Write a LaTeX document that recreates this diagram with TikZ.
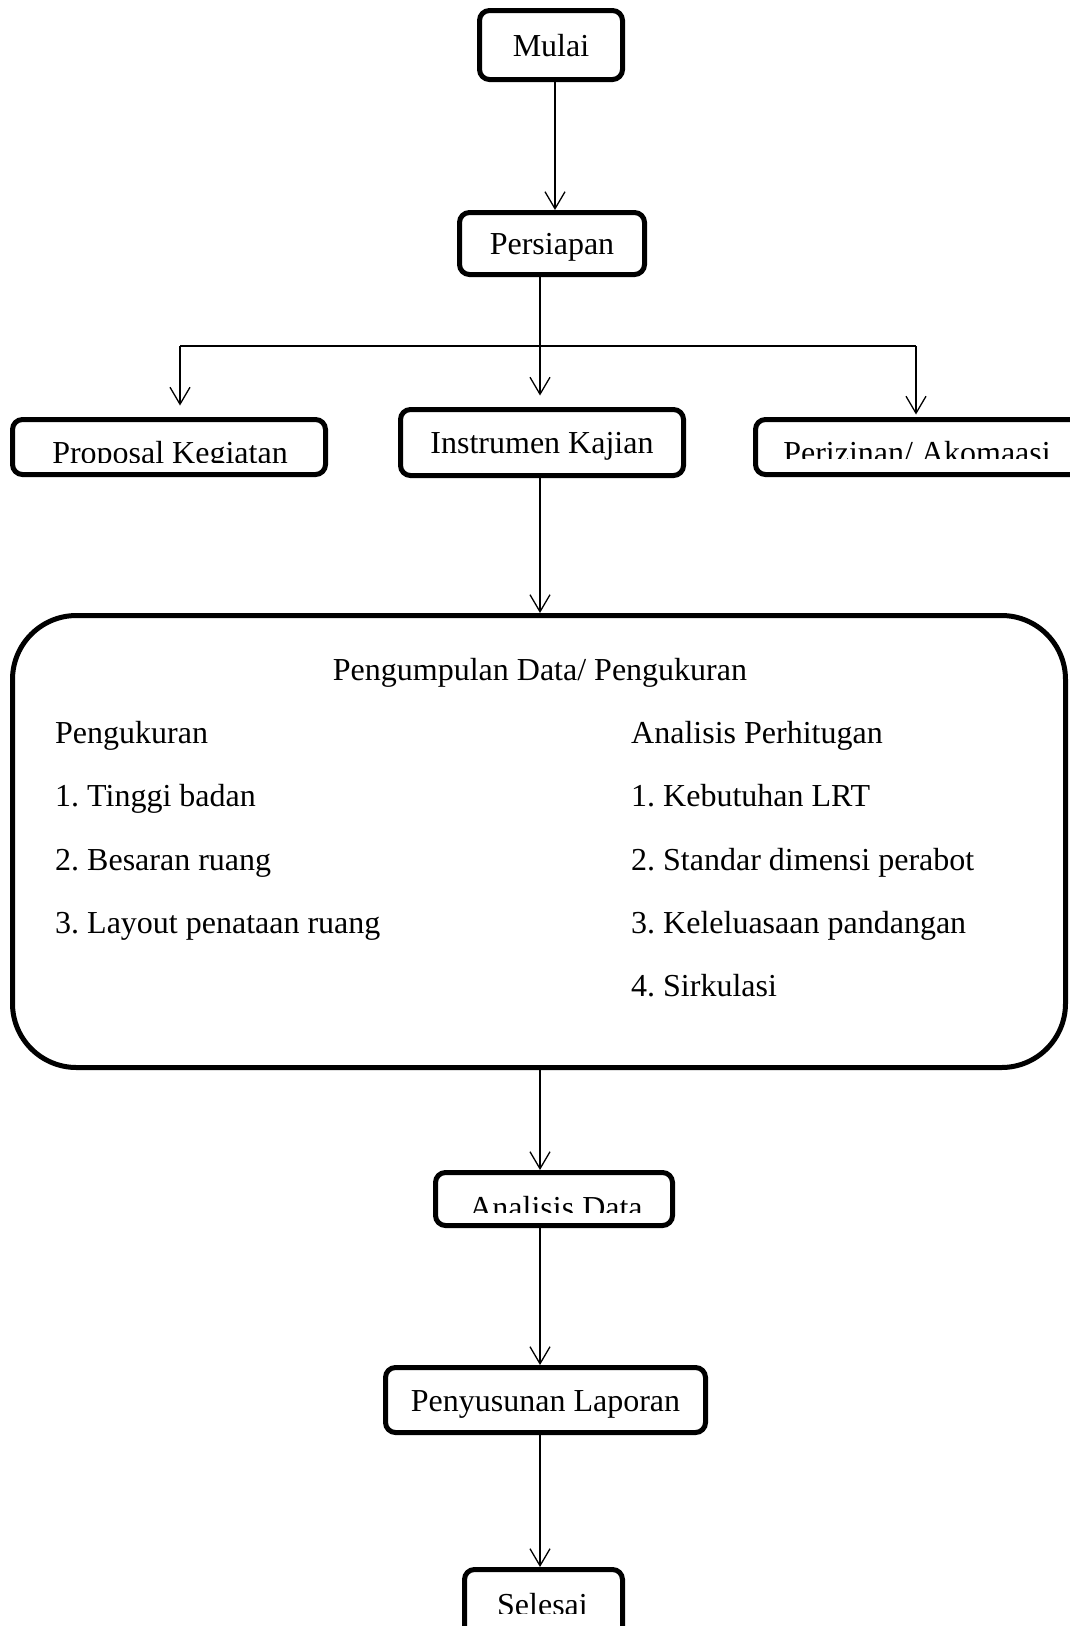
\documentclass[tikz,border=0pt]{standalone}
\usepackage{fontspec}
\setmainfont{Liberation Serif}
\usetikzlibrary{arrows.meta}
\frenchspacing
\begin{document}
\begin{tikzpicture}[x=1pt,y=-1pt,
  box/.style={draw, line width=5pt, rounded corners=10pt, inner sep=0pt,
    text height=22pt, text depth=0pt, align=center},
  lbl/.style={inner sep=0pt, anchor=base},
  lblw/.style={inner sep=0pt, anchor=base west},
  conn/.style={line width=1.3pt},
  arr/.style={conn, -{Straight Barb[length=17pt,width=20pt]}},
  font=\fontsize{32}{38}\selectfont]
\useasboundingbox (0,0) rectangle (1070,1626);

% boxes
\node[box, minimum width=143pt, minimum height=69pt] (mulai) at (551,45) {Mulai};
\node[box, minimum width=185pt, minimum height=62pt] (persiapan) at (552,243.5) {Persiapan};
\node[box, minimum width=313pt, minimum height=55pt] (proposal) at (169,447) {};
\node[box, minimum width=283pt, minimum height=66pt] (instrumen) at (542,442.5) {Instrumen Kajian};
\node[box, minimum width=335pt, minimum height=55pt] (perizinan) at (923,447) {};
\node[box, rounded corners=64pt, minimum width=1053pt, minimum height=452pt] (data) at (539,841.5) {};
\node[box, minimum width=237pt, minimum height=53pt] (analisis) at (554,1199) {};
\node[box, minimum width=320pt, minimum height=65pt] (laporan) at (545.5,1400) {Penyusunan Laporan};
\node[box, minimum width=158pt, minimum height=80pt] (selesai) at (543.5,1609.5) {};

% clipped texts
\begin{scope}
  \clip (0,300) rectangle (1070,462);
  \node[lbl] (proposalT) at (170,463) {Proposal Kegiatan};
\end{scope}
\begin{scope}
  \clip (0,300) rectangle (1070,458);
  \node[lbl] (perizinanT) at (917,463) {Perizinan/ Akomaasi};
\end{scope}
\begin{scope}
  \clip (0,1100) rectangle (1070,1212);
  \node[lbl] (analisisT) at (556,1218) {Analisis Data};
\end{scope}
\begin{scope}
  \clip (0,1500) rectangle (1070,1613);
  \node[lbl] (selesaiT) at (542.5,1615) {Selesai};
\end{scope}

% contents of the big box
\node[lbl] (title) at (540,680) {Pengumpulan Data/ Pengukuran};
\node[lblw] (l0) at (55,743) {Pengukuran};
\node[lblw] (l1) at (55,806) {1. Tinggi badan};
\node[lblw] (l2) at (55,870) {2. Besaran ruang};
\node[lblw] (l3) at (55,933) {3. Layout penataan ruang};
\node[lblw] (r0) at (631,743) {Analisis Perhitugan};
\node[lblw] (r1) at (631,806) {1. Kebutuhan LRT};
\node[lblw] (r2) at (631,870) {2. Standar dimensi perabot};
\node[lblw] (r3) at (631,933) {3. Keleluasaan pandangan};
\node[lblw] (r4) at (631,996) {4. Sirkulasi};

% connectors
\coordinate (split) at (540,346);
\coordinate (lp) at (180,346);
\coordinate (rp) at (916,346);

\draw[arr] ([xshift=4pt]mulai.south) -- ([xshift=4pt]mulai.south |- persiapan.north);
\draw[arr] (persiapan.south -| split) -- ([yshift=11.5pt]instrumen.north -| split);
\draw[conn] (lp) -- (rp);
\draw[arr] (lp) -- ([yshift=11.5pt]proposal.north -| lp);
\draw[arr] (rp) -- ([yshift=2.5pt]perizinan.north -| rp);
\draw[arr] (instrumen.south -| split) -- (data.north -| split);
\draw[arr] (data.south -| split) -- (analisis.north -| split);
\draw[arr] (analisis.south -| split) -- (laporan.north -| split);
\draw[arr] (laporan.south -| split) -- (selesai.north -| split);
\end{tikzpicture}
\end{document}
